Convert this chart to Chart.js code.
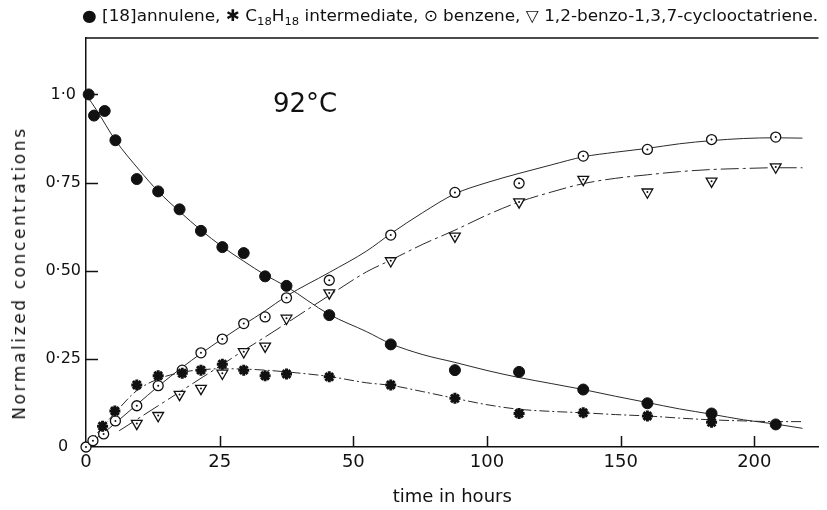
<!DOCTYPE html>
<html>
<head>
<meta charset="utf-8">
<script src="https://cdn.jsdelivr.net/npm/chart.js@4.4.1/dist/chart.umd.min.js"></script>
<style>
  body { margin: 0; background: #fff; }
  #wrap { position: relative; width: 827px; height: 510px; font-family: "DejaVu Sans", sans-serif; color: #111; }
  canvas { position: absolute; left: 0; top: 0; }
  #key { position: absolute; left: 82px; top: 6px; font-size: 16px; line-height: 20px; white-space: nowrap; transform-origin: 0 0; }
  #key sub { font-size: 11px; line-height: 0; }
  #temp { position: absolute; left: 273px; top: 88px; font-size: 26px; line-height: 30px; }
  #ytitle { position: absolute; left: 19px; top: 273px; font-size: 17px; letter-spacing: 2.6px; white-space: nowrap; transform: translate(-50%, -50%) rotate(-90deg); }
</style>
</head>
<body>
<div id="wrap">
  <canvas id="chart" width="827" height="510"></canvas>
  <div id="key">● [18]annulene, ✱ C<sub>18</sub>H<sub>18</sub> intermediate, ⊙ benzene, ▽ 1,2-benzo-1,3,7-cyclooctatriene.</div>
  <div id="temp">92°C</div>
  <div id="ytitle">Normalized concentrations</div>
</div>
<script>
// axis ticks (the time axis is stretched 2x below 50 h)
const xTickHours = [0, 25, 50, 100, 150, 200];
const yTicks = [0, 0.25, 0.5, 0.75, 1.0];
const yTickLabels = ['0', '0·25', '0·50', '0·75', '1·0'];

// measured points
const annuleneHours = [0.5, 1.5, 3.5, 5.5, 9.5, 13.5, 17.5, 21.5, 25.5, 29.5, 33.5, 37.5, 45.5, 64, 88, 112, 136, 160, 184, 208];
const annulene = [1.0, 0.94, 0.953, 0.87, 0.76, 0.725, 0.674, 0.613, 0.567, 0.55, 0.484, 0.457, 0.374, 0.291, 0.218, 0.213, 0.163, 0.124, 0.095, 0.064];

const intermHours = [3.1, 5.4, 9.5, 13.5, 18, 21.5, 25.5, 29.5, 33.5, 37.5, 45.5, 64, 88, 112, 136, 160, 184];
const interm = [0.059, 0.102, 0.176, 0.202, 0.209, 0.218, 0.235, 0.218, 0.202, 0.207, 0.199, 0.176, 0.138, 0.095, 0.097, 0.088, 0.070];

const benzeneHours = [0, 1.3, 3.3, 5.5, 9.5, 13.5, 18, 21.5, 25.5, 29.5, 33.5, 37.5, 45.5, 64, 88, 112, 136, 160, 184, 208];
const benzene = [0.0, 0.018, 0.037, 0.074, 0.117, 0.174, 0.218, 0.267, 0.306, 0.35, 0.369, 0.423, 0.473, 0.601, 0.722, 0.748, 0.825, 0.844, 0.872, 0.879];

const cotHours = [9.5, 13.5, 17.5, 21.5, 25.5, 29.5, 33.5, 37.5, 45.5, 64, 88, 112, 136, 160, 184, 208];
const cot = [0.067, 0.089, 0.149, 0.166, 0.209, 0.270, 0.286, 0.365, 0.437, 0.528, 0.598, 0.695, 0.759, 0.723, 0.754, 0.794];

// hand-drawn fitted curves
const annuleneFitHours = [0, 2, 5.5, 10, 13.5, 17.5, 21.5, 25.5, 29.5, 33.5, 37.5, 45.5, 55, 64, 76, 88, 100, 112, 124, 136, 148, 160, 172, 184, 196, 208, 218];
const annuleneFit = [1.0, 0.955, 0.87, 0.785, 0.725, 0.668, 0.615, 0.568, 0.527, 0.488, 0.455, 0.376, 0.327, 0.293, 0.262, 0.24, 0.217, 0.197, 0.18, 0.163, 0.144, 0.126, 0.108, 0.093, 0.077, 0.065, 0.053];

const benzeneFitHours = [0, 1.3, 3.3, 5.5, 9.5, 13.5, 18, 21.5, 25.5, 29.5, 33.5, 37.5, 45.5, 55, 64, 76, 88, 100, 112, 124, 136, 148, 160, 172, 184, 196, 208, 218];
const benzeneFit = [0, 0.018, 0.04, 0.068, 0.12, 0.172, 0.226, 0.265, 0.307, 0.347, 0.386, 0.428, 0.495, 0.556, 0.605, 0.665, 0.718, 0.75, 0.776, 0.80, 0.823, 0.836, 0.847, 0.86, 0.869, 0.875, 0.877, 0.876];

const intermFitHours = [0, 3, 5.5, 9.5, 13.5, 18, 21.5, 25.5, 29.5, 33.5, 37.5, 45.5, 55, 64, 76, 88, 100, 112, 124, 136, 148, 160, 172, 184, 196, 208, 218];
const intermFit = [0, 0.055, 0.098, 0.16, 0.193, 0.212, 0.219, 0.222, 0.221, 0.218, 0.213, 0.2, 0.182, 0.175, 0.157, 0.138, 0.12, 0.107, 0.101, 0.097, 0.092, 0.088, 0.082, 0.077, 0.074, 0.072, 0.072];

const cotFitHours = [6.2, 9.5, 13.5, 17.5, 21.5, 25.5, 29.5, 33.5, 37.5, 45.5, 55, 64, 76, 88, 100, 112, 124, 136, 148, 160, 172, 184, 196, 208, 218];
const cotFit = [0.046, 0.078, 0.117, 0.156, 0.195, 0.234, 0.274, 0.312, 0.351, 0.43, 0.497, 0.53, 0.575, 0.615, 0.658, 0.695, 0.723, 0.747, 0.762, 0.772, 0.781, 0.787, 0.79, 0.792, 0.792];

// piecewise-linear map from hours to axis units (one unit per labelled tick)
function warp(h) {
  const n = xTickHours.length;
  let i = 0;
  while (i < n - 2 && h > xTickHours[i + 1]) i++;
  return i + (h - xTickHours[i]) / (xTickHours[i + 1] - xTickHours[i]);
}
const pts = (hours, vals) => hours.map((h, i) => ({ x: warp(h), y: vals[i] }));

const ink = '#111';
Chart.defaults.font.family = '"DejaVu Sans", sans-serif';
Chart.defaults.color = ink;

const marks = (data, extra) => Object.assign({ data, showLine: false, clip: false, borderColor: ink }, extra);
const curve = (data, dash) => ({ data, showLine: true, pointRadius: 0, borderWidth: 1, borderColor: '#2a2a2a',
  borderDash: dash, cubicInterpolationMode: 'monotone', clip: false });

// frame top and tick marks pointing into the plot
const innerTicks = {
  id: 'innerTicks',
  afterDraw(chart) {
    const { ctx, chartArea: a } = chart;
    const x = chart.scales.x, y = chart.scales.y;
    ctx.save();
    ctx.setLineDash([]);
    ctx.strokeStyle = ink;
    ctx.lineWidth = 1.5;
    ctx.beginPath();
    ctx.moveTo(a.left, a.top);
    ctx.lineTo(a.right, a.top);
    xTickHours.slice(1).forEach(h => {
      const px = Math.round(x.getPixelForValue(warp(h))) + 0.5;
      ctx.moveTo(px, a.bottom);
      ctx.lineTo(px, a.bottom - 11);
    });
    yTicks.slice(1).forEach(v => {
      const py = Math.round(y.getPixelForValue(v)) + 0.5;
      ctx.moveTo(a.left, py);
      ctx.lineTo(a.left + 12, py);
    });
    ctx.stroke();
    ctx.restore();
  }
};

const centreDots = {
  id: 'centreDots',
  afterDatasetsDraw(chart) {
    const ctx = chart.ctx;
    ctx.save();
    ctx.fillStyle = ink;
    chart.data.datasets.forEach((ds, i) => {
      if (!ds.centreDot) return;
      chart.getDatasetMeta(i).data.forEach(el => {
        ctx.beginPath();
        ctx.arc(el.x, el.y, 1, 0, Math.PI * 2);
        ctx.fill();
      });
    });
    ctx.restore();
  }
};

new Chart(document.getElementById('chart'), {
  type: 'scatter',
  data: {
    datasets: [
      marks(pts(annuleneHours, annulene), { pointStyle: 'circle', pointRadius: 5.5, backgroundColor: ink, borderWidth: 1 }),
      marks(pts(intermHours, interm), { pointStyle: 'star', pointRadius: 5.5, borderWidth: 3 }),
      marks(pts(benzeneHours, benzene), { pointStyle: 'circle', pointRadius: 5, backgroundColor: '#fff', borderWidth: 1.3, centreDot: true }),
      marks(pts(cotHours, cot), { pointStyle: 'triangle', rotation: 180, pointRadius: 6.2, backgroundColor: '#fff', borderWidth: 1.3, centreDot: true }),
      curve(pts(annuleneFitHours, annuleneFit), []),
      curve(pts(benzeneFitHours, benzeneFit), []),
      curve(pts(intermFitHours, intermFit), [10, 3, 2, 3]),
      curve(pts(cotFitHours, cotFit), [18, 4, 3, 4])
    ]
  },
  options: {
    responsive: false,
    animation: false,
    layout: { padding: { top: 38, right: 0, bottom: 0, left: 0 } },
    plugins: { legend: { display: false }, tooltip: { enabled: false } },
    scales: {
      x: {
        type: 'linear', min: 0, max: warp(224),
        grid: { display: false, drawTicks: false },
        border: { color: ink, width: 1.5 },
        afterBuildTicks: s => { s.ticks = xTickHours.map(h => ({ value: warp(h) })); },
        afterFit: s => { s.height = 63; },
        ticks: { autoSkip: false, maxRotation: 0, padding: 5, font: { size: 18 },
          callback: (v, i) => String(xTickHours[i]) },
        title: { display: true, text: 'time in hours', font: { size: 18 }, padding: { top: 0, bottom: 2 } }
      },
      y: {
        type: 'linear', min: 0, max: 1.16,
        grid: { display: false, drawTicks: false },
        border: { color: ink, width: 1.5 },
        afterBuildTicks: s => { s.ticks = yTicks.map(v => ({ value: v })); },
        afterFit: s => { s.width = 86; },
        ticks: { crossAlign: 'center', padding: 5, font: { size: 16 },
          callback: (v, i) => yTickLabels[i] }
      }
    }
  },
  plugins: [innerTicks, centreDots]
});

// stretch the key line to the width it has in the figure
const key = document.getElementById('key');
key.style.transform = 'scaleX(' + (736 / key.offsetWidth) + ')';
</script>
</body>
</html>
